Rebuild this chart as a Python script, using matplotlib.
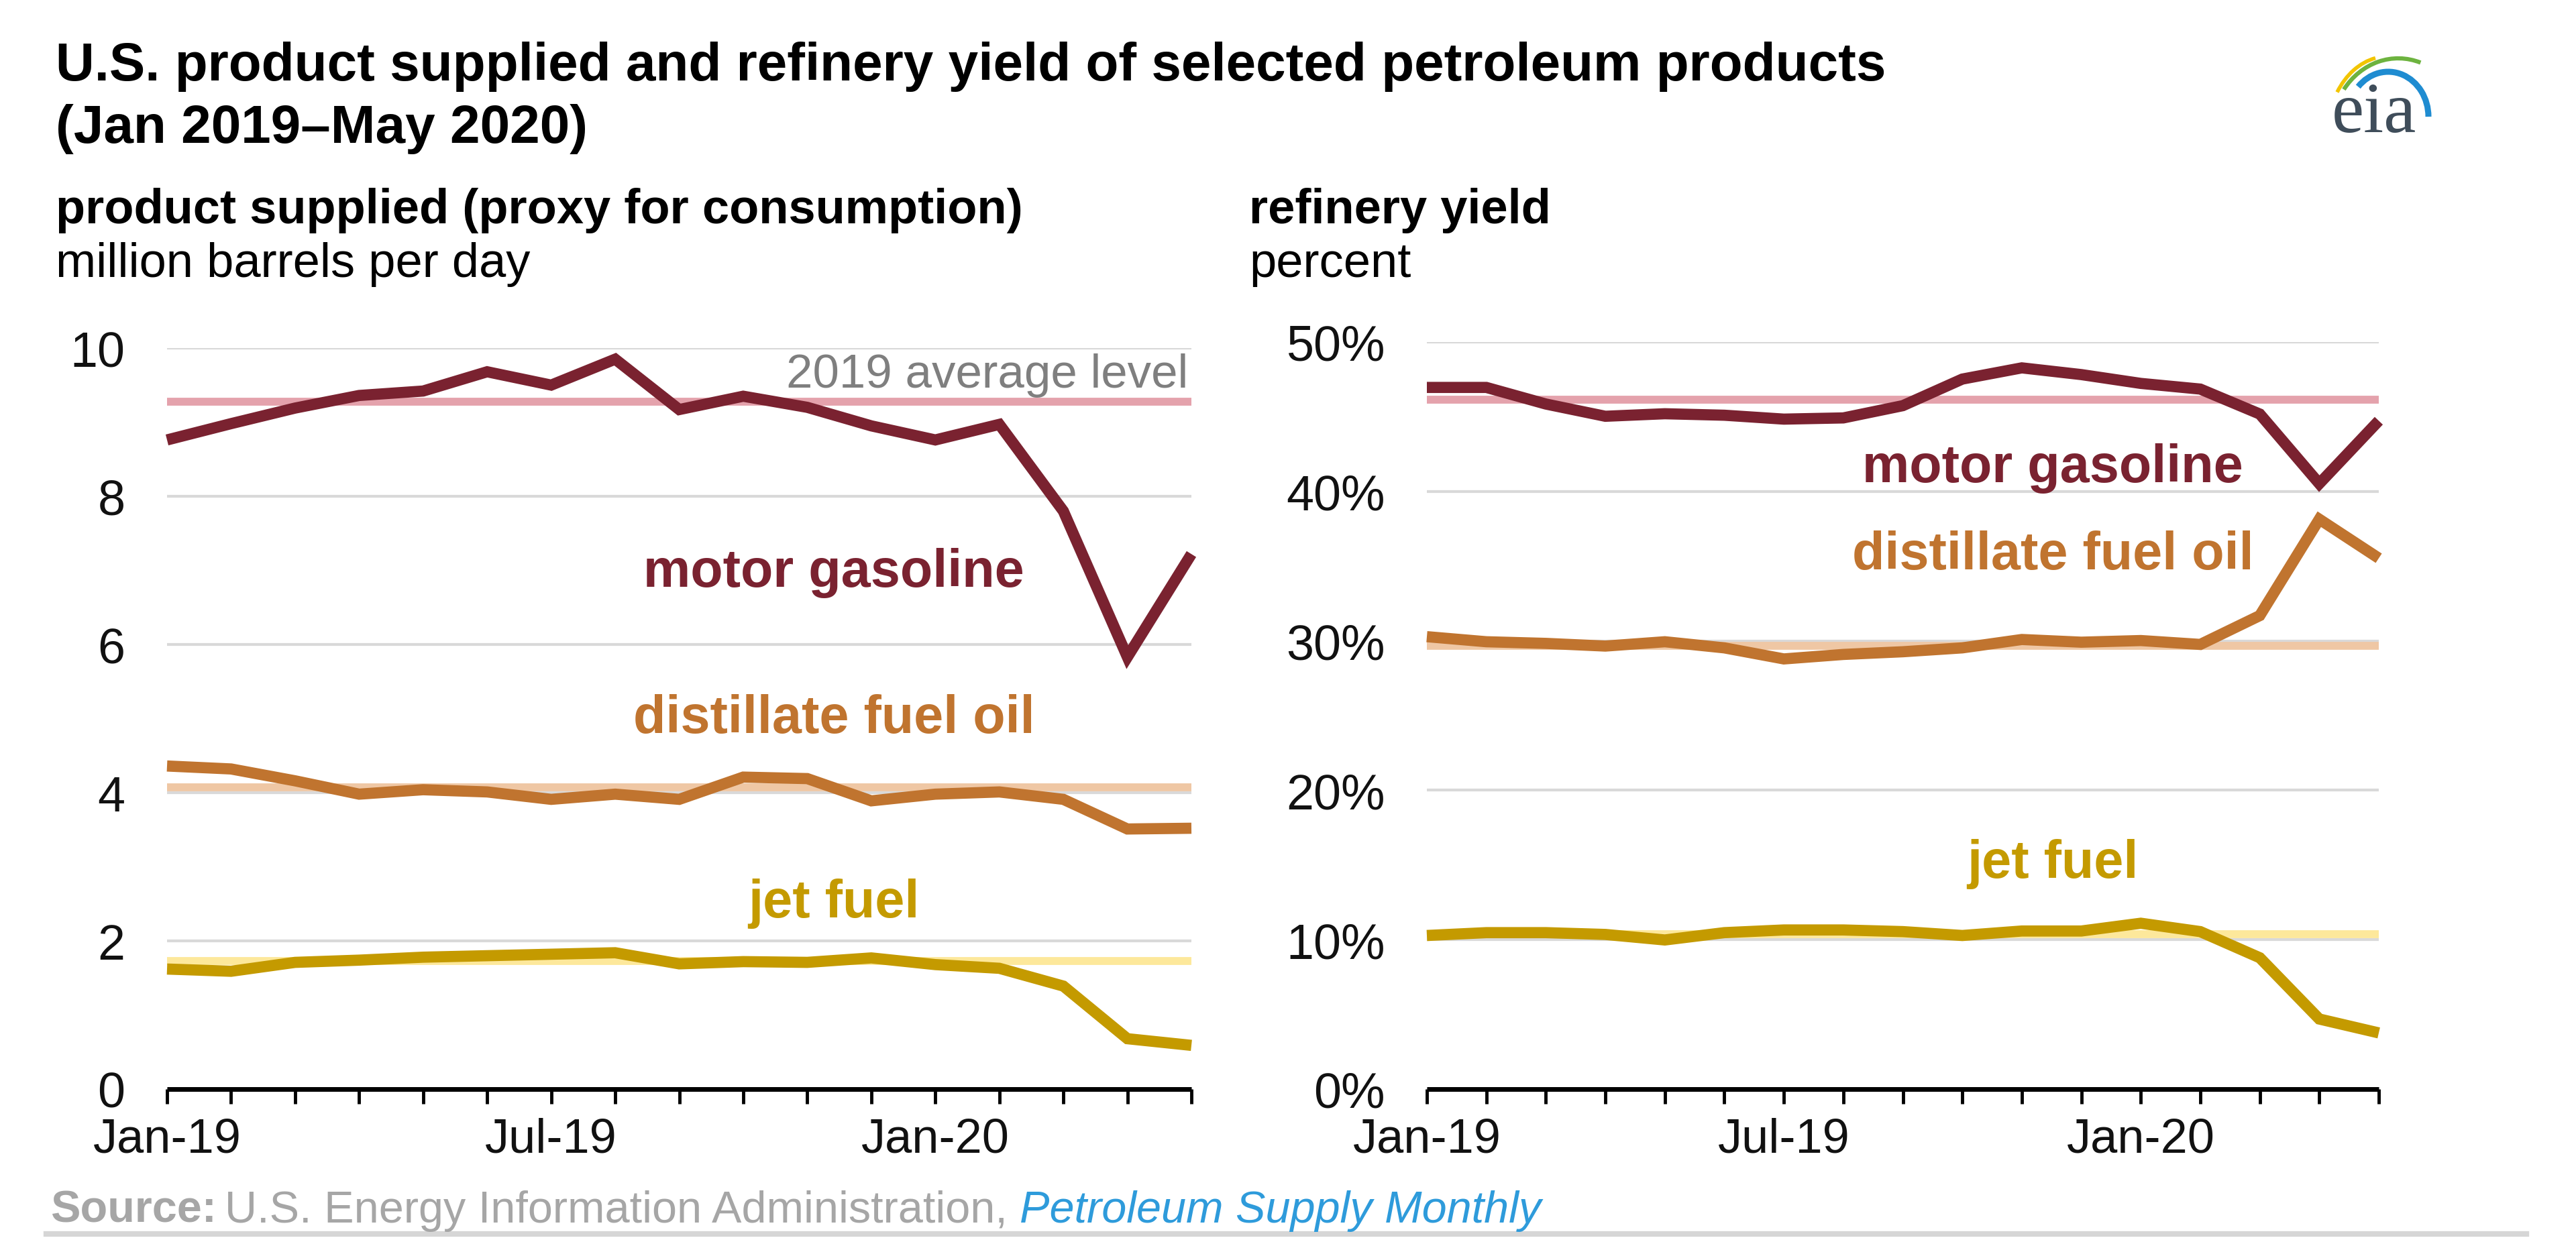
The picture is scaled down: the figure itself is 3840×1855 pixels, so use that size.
import matplotlib
matplotlib.use("Agg")
import matplotlib.pyplot as plt
from matplotlib.patches import Arc
import numpy as np

plt.rcParams['font.family'] = ['Liberation Sans', 'DejaVu Sans']

months = ["Jan-19", "Feb-19", "Mar-19", "Apr-19", "May-19", "Jun-19", "Jul-19", "Aug-19",
          "Sep-19", "Oct-19", "Nov-19", "Dec-19", "Jan-20", "Feb-20", "Mar-20", "Apr-20", "May-20"]
tick_labels = ["Jan-19", "Jul-19", "Jan-20"]

# product supplied, million barrels per day
supplied_gasoline = [8.76, 8.98, 9.19, 9.36, 9.42, 9.68, 9.50, 9.85, 9.17, 9.35, 9.20, 8.95, 8.76, 8.97, 7.80, 5.83, 7.22]
supplied_distillate = [4.36, 4.32, 4.16, 3.98, 4.04, 4.01, 3.91, 3.98, 3.91, 4.21, 4.19, 3.89, 3.98, 4.01, 3.91, 3.51, 3.52]
supplied_jet = [1.62, 1.59, 1.71, 1.74, 1.78, 1.80, 1.82, 1.84, 1.69, 1.72, 1.71, 1.77, 1.68, 1.63, 1.39, 0.68, 0.59]
supplied_avg = [9.28, 4.07, 1.73]

# refinery yield, percent
yield_gasoline = [46.96, 46.96, 45.85, 45.03, 45.20, 45.10, 44.84, 44.92, 45.74, 47.52, 48.27, 47.82, 47.23, 46.85, 45.18, 40.52, 44.73]
yield_distillate = [30.28, 29.94, 29.83, 29.65, 29.94, 29.53, 28.79, 29.09, 29.27, 29.53, 30.09, 29.91, 30.02, 29.76, 31.69, 38.14, 35.53]
yield_jet = [10.28, 10.47, 10.47, 10.35, 9.98, 10.47, 10.65, 10.65, 10.54, 10.28, 10.58, 10.58, 11.10, 10.54, 8.79, 4.69, 3.76]
yield_avg = [46.15, 29.65, 10.39]

series_names = ["motor gasoline", "distillate fuel oil", "jet fuel"]
line_colors = ["#7A2230", "#C0742F", "#C49A00"]
avg_colors = ["#E4A2AC", "#EFC7A4", "#FDE89B"]

W, H = 3840, 1856
fig = plt.figure(figsize=(W / 100, H / 100), dpi=100)
fig.patch.set_facecolor("white")

x = np.arange(len(months))


def style_axes(ax, ymax, ystep, fmt):
    ax.set_xlim(0, len(months) - 1)
    ax.set_ylim(0, ymax)
    yt = np.arange(0, ymax + 0.001, ystep)
    ax.set_yticks(yt)
    ax.set_yticklabels([fmt(v) for v in yt])
    ax.tick_params(axis='y', length=0, labelsize=53, pad=45, labelcolor="#111111")
    ax.set_xticks(x)
    ax.set_xticklabels([m if m in tick_labels else "" for m in months])
    ax.tick_params(axis='x', direction='out', length=16, width=3.5, labelsize=52, pad=14,
                   color="black", labelcolor="#111111")
    for s in ["top", "right", "left"]:
        ax.spines[s].set_visible(False)
    ax.spines["bottom"].set_linewidth(5)
    ax.spines["bottom"].set_color("black")
    ax.spines["bottom"].set_capstyle("butt")
    ax.grid(axis='y', color="#D9D9D9", linewidth=3)
    ax.set_axisbelow(True)
    ax.set_facecolor("none")


# left panel
ax1 = fig.add_axes([249 / W, 1 - 1625 / H, (1776 - 249) / W, (1625 - 520) / H])
style_axes(ax1, 10, 2, lambda v: f"{int(v)}")
for vals, avg, lc, ac in zip([supplied_gasoline, supplied_distillate, supplied_jet],
                             supplied_avg, line_colors, avg_colors):
    ax1.axhline(avg, color=ac, linewidth=8.5, zorder=2, solid_capstyle='butt')
    ax1.plot(x, vals, color=lc, linewidth=12, solid_joinstyle='miter', solid_capstyle='butt',
             zorder=3, clip_on=False)
ax1.text(0.997, 0.9475, "2019 average level", transform=ax1.transAxes, ha='right', va='baseline',
         fontsize=51, color="#7F7F7F")
for name, c, yy in zip(series_names, line_colors, [0.679, 0.481, 0.233]):
    ax1.text(0.651, yy, name, transform=ax1.transAxes, ha='center', va='baseline',
             fontsize=57, fontweight='bold', color=c)

# right panel
ax2 = fig.add_axes([2127 / W, 1 - 1625 / H, (3546 - 2127) / W, (1625 - 511) / H])
style_axes(ax2, 50, 10, lambda v: f"{int(v)}%")
for vals, avg, lc, ac in zip([yield_gasoline, yield_distillate, yield_jet],
                             yield_avg, line_colors, avg_colors):
    ax2.axhline(avg, color=ac, linewidth=8.5, zorder=2, solid_capstyle='butt')
    ax2.plot(x, vals, color=lc, linewidth=12, solid_joinstyle='miter', solid_capstyle='butt',
             zorder=3, clip_on=False)
for name, c, yy in zip(series_names, line_colors, [0.813, 0.697, 0.284]):
    ax2.text(0.6575, yy, name, transform=ax2.transAxes, ha='center', va='baseline',
             fontsize=57, fontweight='bold', color=c)

# titles
fig.text(83 / W, 1 - 120 / H, "U.S. product supplied and refinery yield of selected petroleum products",
         fontsize=57.7, fontweight='bold', color="black", va='baseline', ha='left')
fig.text(83 / W, 1 - 213 / H, "(Jan 2019\u2013May 2020)",
         fontsize=57.7, fontweight='bold', color="black", va='baseline', ha='left')
fig.text(83 / W, 1 - 333 / H, "product supplied (proxy for consumption)",
         fontsize=52, fontweight='bold', color="black", va='baseline', ha='left')
fig.text(83 / W, 1 - 413 / H, "million barrels per day",
         fontsize=52, color="black", va='baseline', ha='left')
fig.text(1862 / W, 1 - 333 / H, "refinery yield",
         fontsize=52, fontweight='bold', color="black", va='baseline', ha='left')
fig.text(1862 / W, 1 - 413 / H, "percent",
         fontsize=52, color="black", va='baseline', ha='left')

# source
src_y = 1 - 1823 / H
t1 = fig.text(75 / W, src_y, "Source:", fontsize=48, fontweight='bold', color="#A6A6A6",
              va='baseline', ha='left')
fig.canvas.draw()
r = fig.canvas.get_renderer()
bb = t1.get_window_extent(r)
t2 = fig.text((bb.x1 + 12) / W, src_y, "U.S. Energy Information Administration, ", fontsize=48,
              color="#A6A6A6", va='baseline', ha='left')
bb2 = t2.get_window_extent(r)
fig.text(bb2.x1 / W, src_y, "Petroleum Supply Monthly", fontsize=48, style='italic',
         color="#2E9BDB", va='baseline', ha='left')
fig.add_artist(plt.Line2D([69 / W, 3766 / W], [1 - 1841 / H, 1 - 1841 / H],
                          color="#D6D6D6", linewidth=6, transform=fig.transFigure))

# eia logo (coordinates in pixels, y measured upward)
lax = fig.add_axes([3440 / W, 1 - 220 / H, 220 / W, 180 / H])
lax.set_xlim(3440, 3660)
lax.set_ylim(H - 220, H - 40)
lax.axis('off')
lax.text(3539, H - 197, "eia", fontsize=78, color="#3F4D5A", ha='center', va='baseline',
         family=['Liberation Serif', 'DejaVu Serif'])
lax.add_patch(Arc((3560, H - 200), 180, 230, theta1=99.6, theta2=141, color="#F2C500",
                  linewidth=4, clip_on=False))
lax.add_patch(Arc((3575, H - 200), 200, 224, theta1=72.5, theta2=141, color="#6DB33F",
                  linewidth=4.5, clip_on=False))
lax.add_patch(Arc((3560, H - 175), 120, 134, theta1=0, theta2=135, color="#1F8CD1",
                  linewidth=6.5, clip_on=False))

fig.savefig("out.png", dpi=100, facecolor="white")
